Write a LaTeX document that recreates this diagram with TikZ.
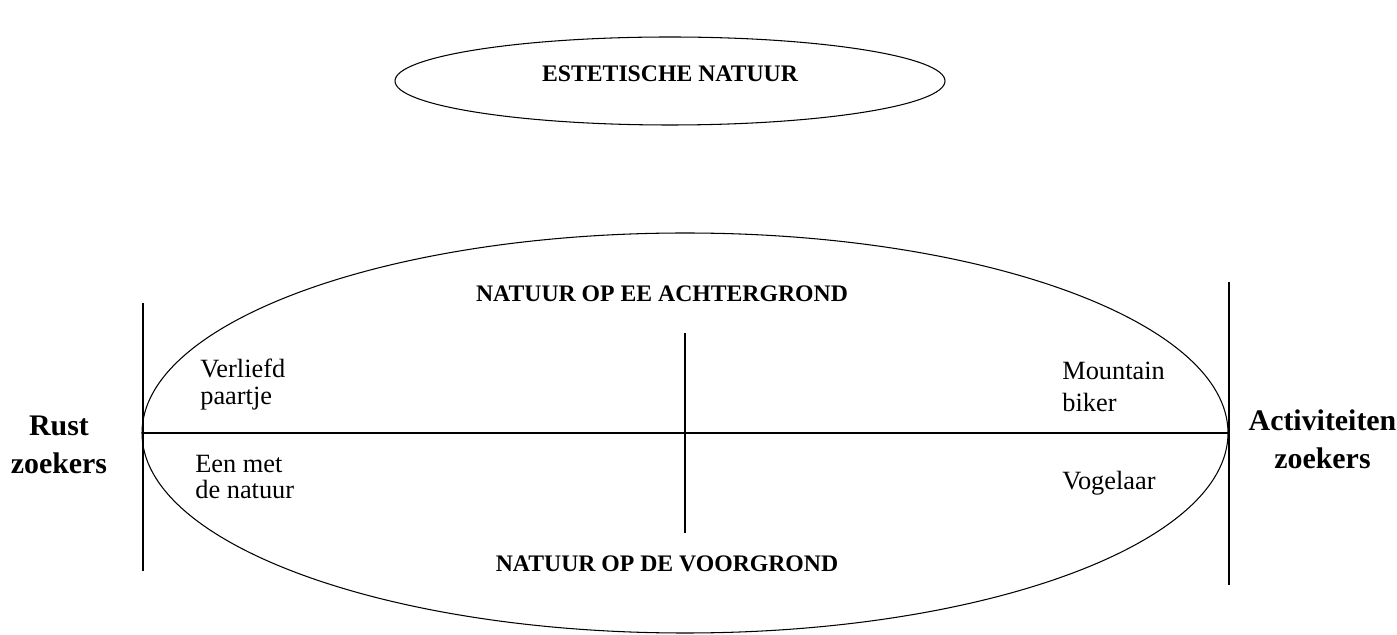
\documentclass[tikz,border=0pt]{standalone}
\usepackage{fontspec}
\setmainfont{Liberation Serif}
\usetikzlibrary{positioning,shapes.geometric}
\tikzset{
  figkop/.style={font=\fontsize{13.5}{15}\selectfont\bfseries, inner sep=0pt},
  figtekst/.style={font=\fontsize{15}{15}\selectfont, align=left, inner sep=0pt},
  figzij/.style={font=\fontsize{17}{21.6}\selectfont\bfseries, align=center, inner sep=0pt},
  figovaal/.style={draw, ellipse, inner sep=0pt, outer sep=0pt, line width=0.6pt},
}

\begin{document}
\begin{tikzpicture}[as/.style={line width=0.9pt}]
  \useasboundingbox (0,0) rectangle (27.94,12.7);
  % bovenste ovaal
  \node[figovaal, minimum width=11cm, minimum height=1.76cm] (estetisch) at (13.4,11.08) {};
  \node[figkop, anchor=base] (estetischtekst) at (13.4,11.06) {ESTETISCHE NATUUR};
  % grote ovaal met de twee assen
  \node[figovaal, minimum width=21.72cm, minimum height=8cm] (natuur) at (13.7,4.04) {};
  \draw[as] (natuur.west) -- (natuur.east);
  \coordinate (asboven) at (13.7,6.04);
  \coordinate (asonder) at (13.7,2.04);
  \draw[as] (asboven) -- (asonder);
  % zijlijnen
  \coordinate (linksboven) at (2.86,6.64);
  \coordinate (linksonder) at (2.86,1.28);
  \coordinate (rechtsboven) at (24.58,7.06);
  \coordinate (rechtsonder) at (24.58,1.0);
  \draw[as] (linksboven) -- (linksonder);
  \draw[as] (rechtsboven) -- (rechtsonder);
  % teksten
  \node[figkop, anchor=base] (achter) at (13.24,6.66) {NATUUR OP EE ACHTERGROND};
  \node[figkop, anchor=base] (voor) at (13.34,1.26) {NATUUR OP DE VOORGROND};
  \node[figtekst, anchor=north west] (verliefd) at (4.0,5.52) {Verliefd\\paartje};
  \node[figtekst, anchor=north west] (eenmet) at (3.9,3.6) {Een met\\de natuur};
  \node[figtekst, anchor=north west, font=\fontsize{15}{17.8}\selectfont] (biker) at (21.24,5.46) {Mountain\\biker};
  \node[figtekst, anchor=base west] (vogelaar) at (21.24,2.9) {Vogelaar};
  \node[figzij, anchor=north] (rust) at (1.18,4.38) {Rust\\zoekers};
  \node[figzij, anchor=north] (activiteit) at (26.45,4.52) {Activiteiten\\zoekers};
\end{tikzpicture}
\end{document}
